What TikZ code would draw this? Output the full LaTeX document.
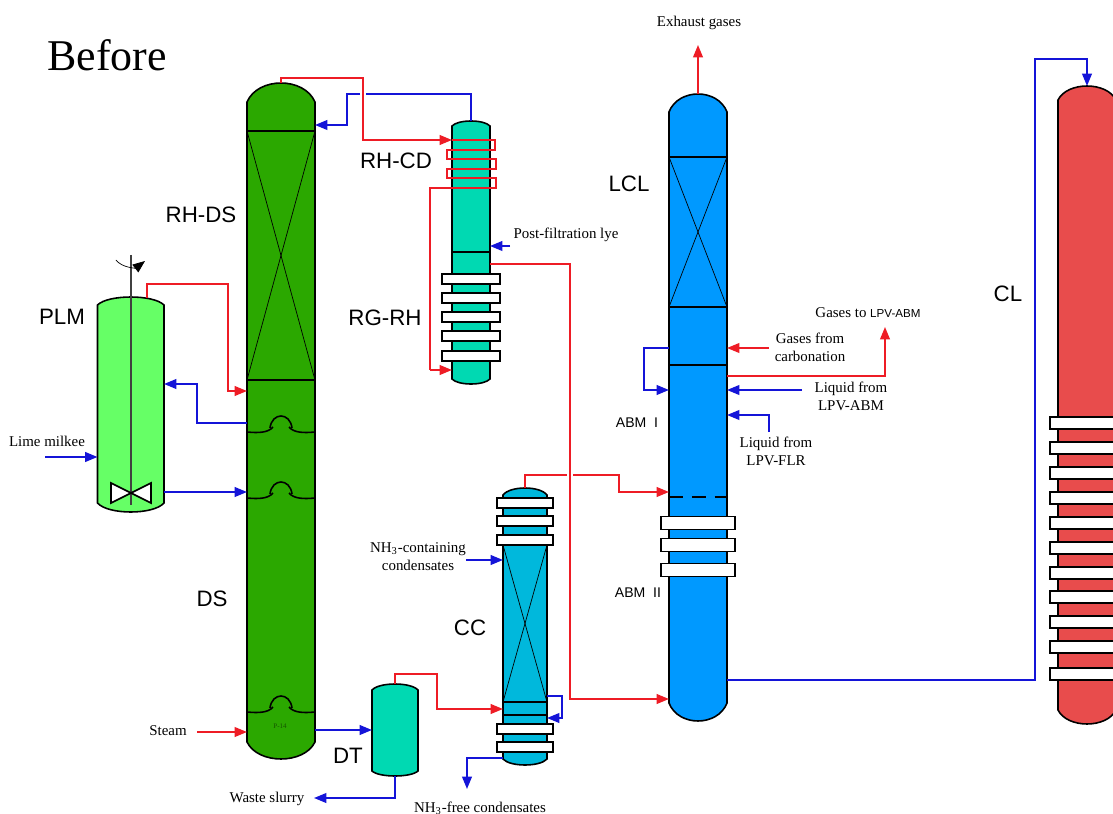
\documentclass[tikz,border=0pt]{standalone}
\usepackage{fontspec}
\setmainfont{Liberation Serif}
\setsansfont{Liberation Sans}
\usetikzlibrary{arrows.meta,calc}

\definecolor{dsgreen}{HTML}{2BA800}
\definecolor{plmgreen}{HTML}{66FF66}
\definecolor{rhteal}{HTML}{00D9B2}
\definecolor{ccblue}{HTML}{00B8DC}
\definecolor{lclblue}{HTML}{0099FF}
\definecolor{clred}{HTML}{E84C4C}
\definecolor{redflow}{HTML}{EE1C25}
\definecolor{blueflow}{HTML}{1414D8}

% name, left, right, top, upper shoulder, lower shoulder, bottom, fill
\newcommand{\vessel}[8]{
  \pgfmathsetmacro{\vw}{#3-#2}
  \pgfmathsetmacro{\vh}{#7-#4}
  \draw[shell, fill=#8] (#2,#5)
    .. controls ({#2+0.16*\vw},{#5-(#5-#4)*4/3}) and ({#3-0.16*\vw},{#5-(#5-#4)*4/3}) .. (#3,#5)
    -- (#3,#6)
    .. controls ({#3-0.16*\vw},{#6+(#7-#6)*4/3}) and ({#2+0.16*\vw},{#6+(#7-#6)*4/3}) .. (#2,#6)
    -- cycle;
  \node[body, minimum width=\vw*0.02cm, minimum height=\vh*0.02cm] (#1) at ({(#2+#3)/2},{(#4+#7)/2}) {};
}
% tray of the stripping column
\newcommand{\tray}[1]{
  \draw[shell] (DS.west |- 0,#1) .. controls (258,#1+1) and (268,#1+1) .. (273,#1-5);
  \draw[shell] (DS.east |- 0,#1) .. controls (304,#1+1) and (294,#1+1) .. (289,#1-5);
  \draw[shell] (270,#1-4) .. controls (272,#1-20) and (290,#1-20) .. (292,#1-4);
}

\begin{document}
\begin{tikzpicture}[
  x=0.02cm, y=-0.02cm,
  every node/.style={font=\fontsize{8.5}{10.2}\selectfont, align=center, inner sep=0pt},
  tag/.style={font=\fontsize{12.7}{15}\selectfont\sffamily},
  subtag/.style={font=\fontsize{8}{10}\selectfont\sffamily},
  body/.style={draw=none, outer sep=0pt},
  shell/.style={line width=0.9pt},
  flange/.style={draw, shell, fill=white, minimum height=0.2cm, outer sep=0pt},
  >={Triangle[length=7pt,width=5.5pt]},
  red line/.style={line width=1pt, redflow},
  blue line/.style={line width=1pt, blueflow},
  gap/.style={white, line width=1.6pt}
]
\useasboundingbox (0,0) rectangle (1113,814);

\node[font=\fontsize{25}{28}\selectfont] (before) at (107,55) {Before};

%% ---- Vessels --------------------------------------------------------
\vessel{DS}{247}{315}{83}{102}{742}{759}{dsgreen}
\vessel{PLM}{97.5}{164}{297}{305}{503}{512}{plmgreen}
\vessel{RH}{452}{490}{121}{126}{379}{384}{rhteal}
\vessel{CC}{503}{547}{488}{495}{759}{765}{ccblue}
\vessel{DT}{372}{418}{684}{690}{771}{776}{rhteal}
\vessel{LCL}{669}{727}{94}{112}{703}{721}{lclblue}
\vessel{CL}{1058}{1116}{86}{100}{710}{724}{clred}

%% ---- Desulfurizer internals -----------------------------------------
\draw[shell] (DS.west |- 0,131) -- (DS.east |- 0,131);
\draw[shell] (DS.west |- 0,380) -- (DS.east |- 0,380);
\draw (DS.west |- 0,131) -- (DS.east |- 0,380);
\draw (DS.east |- 0,131) -- (DS.west |- 0,380);
\tray{432}
\tray{498}
\tray{712}
\node[font=\fontsize{4}{5}\selectfont, dsgreen!50!black] (pnum) at (280,726) {P-14};

%% ---- Lime milk mixer internals --------------------------------------
\draw[draw=black!75, line width=1.1pt] (PLM.center |- 0,255) -- (PLM.center |- 0,505);
\draw[shell, fill=white] (111,483) -- (151,503) -- (151,483) -- (111,503) -- cycle;
\draw[->] (116,260) .. controls (122,268) and (136,268) .. (145,261);

%% ---- Column internals -----------------------------------------------
\draw[shell] (RH.west |- 0,252) -- (RH.east |- 0,252);

\draw[shell] (CC.west |- 0,702) -- (CC.east |- 0,702);
\draw[shell] (CC.west |- 0,715) -- (CC.east |- 0,715);
\draw (CC.west |- 0,545) -- (CC.east |- 0,702);
\draw (CC.east |- 0,545) -- (CC.west |- 0,702);

\draw[shell] (LCL.west |- 0,157) -- (LCL.east |- 0,157);
\draw[shell] (LCL.west |- 0,307) -- (LCL.east |- 0,307);
\draw[shell] (LCL.west |- 0,365) -- (LCL.east |- 0,365);
\draw (LCL.west |- 0,157) -- (LCL.east |- 0,307);
\draw (LCL.east |- 0,157) -- (LCL.west |- 0,307);
\draw[shell, dash pattern=on 8pt off 5pt] (LCL.west |- 0,497) -- (LCL.east |- 0,497);

%% ---- Flanges --------------------------------------------------------
\foreach \y in {279,298,317,336,356}
  \node[flange, minimum width=1.16cm] (rh\y) at (RH.center |- 0,\y) {};
\foreach \y in {503,521,540,729,747}
  \node[flange, minimum width=1.12cm] (cc\y) at (CC.center |- 0,\y) {};
\foreach \y in {523,545,570}
  \node[flange, minimum width=1.48cm, minimum height=0.26cm] (lcl\y) at (LCL.center |- 0,\y) {};
\foreach \y in {423,448,473,498,523,548,573,597,622,647,674}
  \node[flange, minimum width=1.48cm, minimum height=0.24cm] (cl\y) at (CL.center |- 0,\y) {};

%% ---- Blue streams ---------------------------------------------------
\draw[blue line, ->] (RH.north) -- (471,94) -- (347,94) -- (347,125) -- (DS.east |- 0,125);
\draw[blue line, ->] (DS.west |- 0,423) -- (197,423) -- (197,384) -- (PLM.east |- 0,384);
\draw[blue line, ->] (PLM.east |- 0,492) -- (DS.west |- 0,492);
\coordinate (limein) at (45,457);
\draw[blue line, ->] (limein) -- (PLM.west |- limein);
\coordinate (lyein) at (510,246);
\draw[blue line, ->] (lyein) -- (RH.east |- lyein);
\draw[blue line, ->] (DS.east |- 0,730) -- (DT.west |- 0,730);
\coordinate (slurry) at (314,798);
\draw[blue line, ->] (DT.south) |- (slurry);
\coordinate (nhin) at (466,560);
\draw[blue line, ->] (nhin) -- (CC.west |- nhin);
\draw[blue line, ->] (CC.east |- 0,696) -- (562,696) -- (562,718) -- (CC.east |- 0,718);
\coordinate (nhfree) at (467,789);
\draw[blue line, ->] (CC.west |- 0,758) -| (nhfree);
\draw[blue line, ->] (LCL.west |- 0,348) -- (644,348) -- (644,390) -- (LCL.west |- 0,390);
\coordinate (abmin) at (802,390);
\draw[blue line, ->] (abmin) -- (LCL.east |- abmin);
\coordinate (flrin) at (769,432);
\draw[blue line, ->] (flrin) |- (LCL.east |- 0,415);
\draw[blue line, ->] (LCL.east |- 0,680) -- (1035,680) -- (1035,59) -| (CL.north);

%% ---- Red streams ----------------------------------------------------
\draw[gap] (360,94) -- (366,94);
\draw[red line, ->] (DS.north) -- (281,78) -- (363,78) -- (363,140) -- (RH.west |- 0,140);
\draw[red line] (RH.west |- 0,140) -- (495,140) -- (495,150) -- (447,150) -- (447,159)
  -- (496,159) -- (496,169) -- (447,169) -- (447,178) -- (496,178) -- (496,188)
  -- (430,188) -- (430,370);
\draw[red line, ->] (430,370) -- (RH.west |- 0,370);
\draw[red line, ->] (147,298) -- (147,284) -- (228,284) -- (228,391) -- (DS.west |- 0,391);
\coordinate (steamin) at (197,732);
\draw[red line, ->] (steamin) -- (DS.west |- steamin);
\draw[red line, ->] (DT.north) -- (395,674) -- (437,674) -- (437,709) -- (CC.west |- 0,709);
\draw[red line, ->] (CC.north) -- (525,475) -- (619,475) -- (619,492) -- (LCL.west |- 0,492);
\draw[gap] (567,475) -- (573,475);
\draw[red line, ->] (RH.east |- 0,264) -- (570,264) -- (570,699) -- (LCL.west |- 0,699);
\coordinate (exhaust) at (698,45);
\draw[red line, ->] (LCL.north) -- (exhaust);
\coordinate (carbin) at (769,348);
\draw[red line, ->] (carbin) -- (LCL.east |- carbin);
\coordinate (gasout) at (885,327);
\draw[red line, ->] (LCL.east |- 0,376) -| (gasout);

%% ---- Equipment tags -------------------------------------------------
\node[tag] (tagrhcd) at (396,161) {RH-CD};
\node[tag] (tagrgrh) at (385,318) {RG-RH};
\node[tag] (tagrhds) at (201,215) {RH-DS};
\node[tag] (tagplm) at (62,317) {PLM};
\node[tag] (tagds) at (212,599) {DS};
\node[tag] (tagcc) at (470,628) {CC};
\node[tag] (tagdt) at (348,756) {DT};
\node[tag] (taglcl) at (629,184) {LCL};
\node[tag] (tagcl) at (1008,294) {CL};
\node[subtag] (tagabmi) at (637,423) {ABM\ \ I};
\node[subtag] (tagabmii) at (638,593) {ABM\ \ II};

%% ---- Stream labels --------------------------------------------------
\node (lbexhaust) at (699,23) {Exhaust gases};
\node (lblye) at (566,235) {Post-filtration lye};
\node (lblime) at (47,441) {Lime milkee};
\node (lbsteam) at (168,731) {Steam};
\node (lbslurry) at (267,799) {Waste slurry};
\node (lbfree) at (480,808) {NH\textsubscript{3}-free condensates};
\node (lbnh) at (418,557) {NH\textsubscript{3}-containing\\condensates};
\node (lbcarb) at (810,347) {Gases from\\carbonation};
\node (lbgasout) at (868,313) {Gases to {\fontsize{6.6}{8}\selectfont\sffamily LPV-ABM}};
\node (lbabm) at (851,396) {Liquid from\\LPV-ABM};
\node (lbflr) at (776,451) {Liquid from\\LPV-FLR};

\end{tikzpicture}
\end{document}
